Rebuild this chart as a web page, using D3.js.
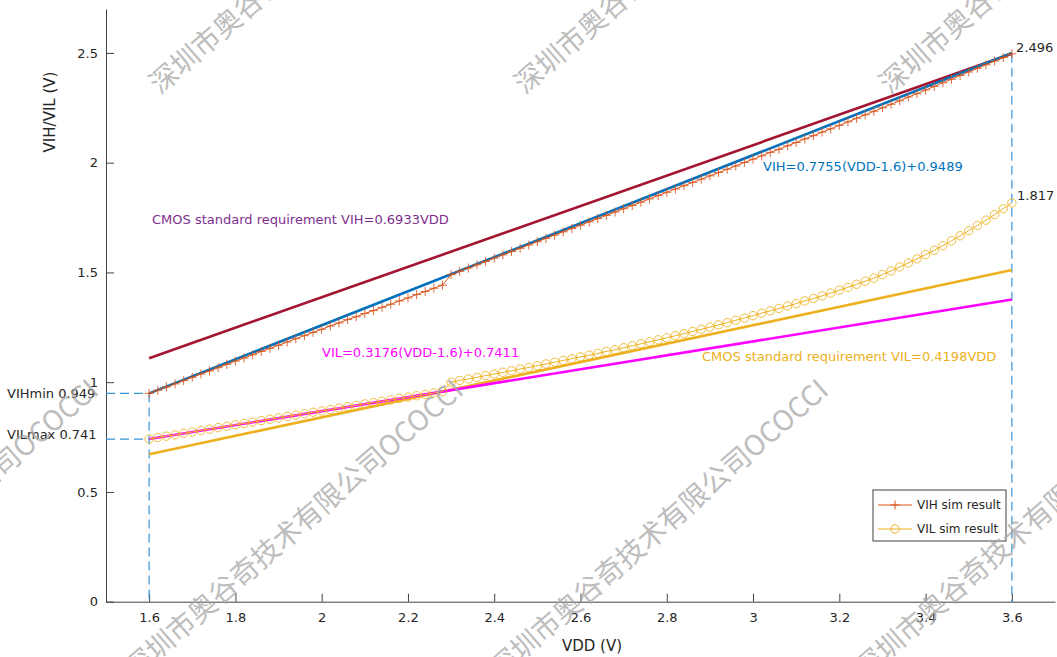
<!DOCTYPE html>
<html>
<head>
<meta charset="utf-8">
<script src="https://cdnjs.cloudflare.com/ajax/libs/d3/7.8.5/d3.min.js"></script>
<style>
  body { margin: 0; background: #fff; }
  text { font-family: "DejaVu Sans", sans-serif; }
</style>
</head>
<body>
<div id="mychart"></div>
<script>
  /*
    data
  */

  // VDD sweep (V)
  var vdd = [1.60,1.62,1.64,1.66,1.68,1.70,1.72,1.74,1.76,1.78,
             1.80,1.82,1.84,1.86,1.88,1.90,1.92,1.94,1.96,1.98,
             2.00,2.02,2.04,2.06,2.08,2.10,2.12,2.14,2.16,2.18,
             2.20,2.22,2.24,2.26,2.28,2.30,2.32,2.34,2.36,2.38,
             2.40,2.42,2.44,2.46,2.48,2.50,2.52,2.54,2.56,2.58,
             2.60,2.62,2.64,2.66,2.68,2.70,2.72,2.74,2.76,2.78,
             2.80,2.82,2.84,2.86,2.88,2.90,2.92,2.94,2.96,2.98,
             3.00,3.02,3.04,3.06,3.08,3.10,3.12,3.14,3.16,3.18,
             3.20,3.22,3.24,3.26,3.28,3.30,3.32,3.34,3.36,3.38,
             3.40,3.42,3.44,3.46,3.48,3.50,3.52,3.54,3.56,3.58,3.60];

  // simulated VIH
  var vihSim = [0.949,0.963,0.978,0.992,1.007,1.022,1.037,1.051,1.066,1.081,
                1.096,1.110,1.125,1.140,1.154,1.168,1.183,1.198,1.212,1.227,
                1.241,1.256,1.270,1.285,1.298,1.313,1.326,1.341,1.355,1.370,
                1.384,1.399,1.413,1.428,1.442,1.490,1.505,1.520,1.535,1.550,
                1.565,1.580,1.595,1.610,1.625,1.640,1.655,1.670,1.685,1.700,
                1.715,1.730,1.745,1.760,1.775,1.790,1.805,1.820,1.835,1.850,
                1.865,1.880,1.895,1.910,1.925,1.940,1.955,1.970,1.985,2.001,
                2.016,2.031,2.047,2.061,2.077,2.092,2.108,2.123,2.139,2.154,
                2.170,2.186,2.202,2.218,2.234,2.250,2.266,2.282,2.299,2.314,
                2.331,2.347,2.364,2.380,2.397,2.413,2.430,2.446,2.463,2.479,2.496];

  // simulated VIL
  var vilSim = [0.741,0.748,0.754,0.760,0.767,0.773,0.780,0.786,0.793,0.799,
                0.806,0.812,0.818,0.825,0.831,0.837,0.844,0.850,0.856,0.863,
                0.869,0.875,0.882,0.888,0.894,0.901,0.907,0.913,0.919,0.926,
                0.932,0.938,0.944,0.951,0.957,1.000,1.008,1.015,1.022,1.030,
                1.037,1.045,1.052,1.060,1.067,1.075,1.083,1.091,1.099,1.107,
                1.115,1.123,1.131,1.140,1.148,1.157,1.166,1.175,1.184,1.193,
                1.202,1.212,1.221,1.231,1.241,1.251,1.261,1.271,1.282,1.292,
                1.303,1.314,1.325,1.336,1.347,1.358,1.370,1.381,1.393,1.406,
                1.419,1.432,1.446,1.460,1.474,1.490,1.507,1.525,1.543,1.562,
                1.581,1.601,1.622,1.644,1.667,1.690,1.714,1.738,1.763,1.790,1.817];

  // straight lines, end points only
  var fitVdd = [1.6, 3.6];
  var vihFit = [0.9489, 2.4999];   // 0.7755(VDD-1.6)+0.9489
  var vihStd = [1.1093, 2.4959];   // 0.6933VDD
  var vilFit = [0.7411, 1.3763];   // 0.3176(VDD-1.6)+0.7411
  var vilStd = [0.6717, 1.5113];   // 0.4198VDD

  var xTicks = [1.6, 1.8, 2, 2.2, 2.4, 2.6, 2.8, 3, 3.2, 3.4, 3.6];
  var yTicks = [0, 0.5, 1, 1.5, 2, 2.5];

function draw() {
  /*
    setup
  */
  "use strict";
  var W = 1057, H = 657;
  var plotL = 106, plotR = 1055, plotT = 9, plotB = 601.7;
  var axisColor = "#404040";

  var svg = d3.select("#mychart")
    .append("svg")
      .attr("width", W)
      .attr("height", H);

  var x = d3.scaleLinear().domain([1.5, 3.7]).range([plotL, plotR]);
  var y = d3.scaleLinear().domain([0, 2.7]).range([plotB, plotT]);
  var fmt = function (d) { return String(+d.toFixed(1)); };

  // axes, ticks pointing in like matlab
  var xAxis = svg.append("g")
      .attr("transform", "translate(0," + plotB + ")")
      .call(d3.axisBottom(x).tickValues(xTicks).tickFormat(fmt)
            .tickSizeInner(-8).tickSizeOuter(0).tickPadding(11));
  var yAxis = svg.append("g")
      .attr("transform", "translate(" + plotL + ",0)")
      .call(d3.axisLeft(y).tickValues(yTicks).tickFormat(fmt)
            .tickSizeInner(-8).tickSizeOuter(0).tickPadding(8));

  [xAxis, yAxis].forEach(function (a) {
    a.selectAll("path,line").attr("stroke", axisColor);
    a.selectAll("text")
      .style("font-family", "DejaVu Sans")
      .style("font-size", "13px")
      .attr("fill", "#262626");
  });

  svg.append("text")
      .attr("x", 592).attr("y", 651)
      .attr("text-anchor", "middle")
      .style("font-size", "15px")
      .attr("fill", "#262626")
      .text("VDD (V)");

  svg.append("text")
      .attr("transform", "translate(55,112) rotate(-90)")
      .attr("text-anchor", "middle")
      .style("font-size", "15px")
      .attr("fill", "#262626")
      .text("VIH/VIL (V)");

  // dashed guide lines
  var dash = "#3a93d5";
  function guide(x1, y1, x2, y2) {
    svg.append("line")
        .attr("x1", x1).attr("y1", y1).attr("x2", x2).attr("y2", y2)
        .attr("stroke", dash).attr("stroke-width", 1.2)
        .attr("stroke-dasharray", "9,5");
  }
  guide(plotL, y(vihSim[0]), x(vdd[0]), y(vihSim[0]));
  guide(plotL, y(vilSim[0]), x(vdd[0]), y(vilSim[0]));
  guide(x(vdd[0]), y(vihSim[0]), x(vdd[0]), plotB);
  guide(x(vdd[vdd.length - 1]), y(vihSim[vihSim.length - 1]), x(vdd[vdd.length - 1]), plotB);

  // straight reference / fit lines
  var line = d3.line()
      .x(function (d) { return x(d[0]); })
      .y(function (d) { return y(d[1]); });

  function straight(vals, color) {
    svg.append("path")
        .datum(d3.zip(fitVdd, vals))
        .attr("d", line)
        .attr("fill", "none")
        .attr("stroke", color)
        .attr("stroke-width", 2.6);
  }
  straight(vihStd, "#A2142F");
  straight(vilStd, "#EDB120");
  straight(vihFit, "#0072BD");
  straight(vilFit, "#FF00FF");

  // simulation results
  var vihPts = d3.zip(vdd, vihSim);
  var vilPts = d3.zip(vdd, vilSim);

  svg.append("path").datum(vihPts).attr("d", line)
      .attr("fill", "none").attr("stroke", "#D95319").attr("stroke-width", 1);
  svg.selectAll(".plus").data(vihPts).enter()
    .append("path")
      .attr("class", "plus")
      .attr("transform", function (d) { return "translate(" + x(d[0]) + "," + y(d[1]) + ")"; })
      .attr("d", "M-4.5,0H4.5M0,-4.5V4.5")
      .attr("stroke", "#D95319").attr("stroke-width", 1).attr("opacity", 0.85);

  svg.append("path").datum(vilPts).attr("d", line)
      .attr("fill", "none").attr("stroke", "#EDB120").attr("stroke-width", 1);
  svg.selectAll(".ring").data(vilPts).enter()
    .append("circle")
      .attr("class", "ring")
      .attr("cx", function (d) { return x(d[0]); })
      .attr("cy", function (d) { return y(d[1]); })
      .attr("r", 4.2)
      .attr("fill", "none")
      .attr("stroke", "#EDB120").attr("stroke-width", 1).attr("opacity", 0.85);

  // annotations
  function note(tx, ty, str, color) {
    svg.append("text")
        .attr("x", tx).attr("y", ty)
        .style("font-size", "13px")
        .attr("fill", color)
        .text(str);
  }
  note(1016, 52, "2.496", "#262626");
  note(1017, 200, "1.817", "#262626");
  note(7, 398, "VIHmin 0.949", "#262626");
  note(7, 439, "VILmax 0.741", "#262626");
  note(152, 224, "CMOS standard requirement VIH=0.6933VDD", "#7E2F8E");
  note(763, 171, "VIH=0.7755(VDD-1.6)+0.9489", "#0072BD");
  note(322, 357, "VIL=0.3176(VDD-1.6)+0.7411", "#FF00FF");
  note(702, 361, "CMOS standard requirement VIL=0.4198VDD", "#EDB120");

  // legend
  var lg = svg.append("g").attr("transform", "translate(873,490)");
  lg.append("rect")
      .attr("width", 133).attr("height", 51)
      .attr("fill", "#fff").attr("stroke", axisColor).attr("stroke-width", 1);
  lg.append("line").attr("x1", 5).attr("x2", 39).attr("y1", 15).attr("y2", 15)
      .attr("stroke", "#D95319");
  lg.append("path").attr("d", "M17.5,15H26.5M22,10.5V19.5").attr("stroke", "#D95319");
  lg.append("line").attr("x1", 5).attr("x2", 39).attr("y1", 39).attr("y2", 39)
      .attr("stroke", "#EDB120");
  lg.append("circle").attr("cx", 22).attr("cy", 39).attr("r", 4.2)
      .attr("fill", "none").attr("stroke", "#EDB120");
  lg.selectAll("text.lab")
      .data(["VIH sim result", "VIL sim result"])
      .enter()
      .append("text")
      .attr("class", "lab")
      .attr("x", 44)
      .attr("y", function (d, i) { return 19 + i * 24; })
      .style("font-size", "12px")
      .attr("fill", "#262626")
      .text(function (d) { return d; });

  // watermark
  var mark = "深圳市奥谷奇技术有限公司OCOCCI";
  var spots = [[160, 95], [525, 95], [890, 95],
               [-230, 680], [135, 680], [500, 680], [865, 680]];
  svg.selectAll("text.wm")
      .data(spots)
      .enter()
      .append("text")
      .attr("class", "wm")
      .attr("transform", function (d) { return "translate(" + d[0] + "," + d[1] + ") rotate(-41)"; })
      .style("font-family", "Noto Sans CJK SC")
      .style("font-size", "28px")
      .attr("fill", "#a8a8a8")
      .attr("opacity", 0.75)
      .text(mark);
}

draw();
</script>
</body>
</html>
